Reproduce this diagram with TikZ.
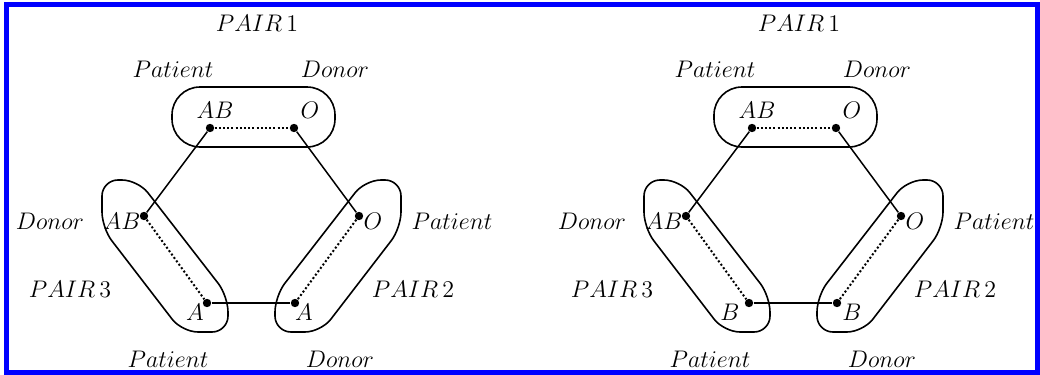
\documentclass[tikz,border=0pt]{standalone}
\usetikzlibrary{positioning}

\begin{document}
\begin{tikzpicture}[
    x=0.5pt, y=-0.5pt,
    font=\fontsize{12.7}{15}\selectfont,
    dot/.style={circle, fill, inner sep=0pt, minimum size=4.2pt},
    tag/.style={inner sep=0pt},
    link/.style={line width=0.75pt},
    match/.style={line width=1pt, dash pattern=on 1pt off 1.1pt},
    hull/.style={line width=0.8pt, rounded corners=8pt}
]

% Frame
\useasboundingbox (0,0) rectangle (1040,375);
\draw[blue, line width=2.5pt] (6.5,4.5) rectangle (1037.5,372.5);

% Two exchange cycles (left: A, right: B)
\foreach \ox/\bt/\xa/\xb/\k in {0/A/195/304/1, 542/B/188/310/2} {
  \begin{scope}[shift={(\ox,0)}]
    % Pair members
    \node[dot] (p1pat\k) at (210,128) {};
    \node[dot] (p1don\k) at (294,128) {};
    \node[dot] (p2pat\k) at (359,216) {};
    \node[dot] (p2don\k) at (295,303) {};
    \node[dot] (p3don\k) at (144,216) {};
    \node[dot] (p3pat\k) at (207,303) {};

    % Blood types
    \node[tag] (p1patL\k) at (215,110) {$AB$};
    \node[tag] (p1donL\k) at (310,110) {$O$};
    \node[tag] (p2patL\k) at (373,221) {$O$};
    \node[tag] (p2donL\k) at (\xb,312) {$\bt$};
    \node[tag] (p3donL\k) at (122,221) {$AB$};
    \node[tag] (p3patL\k) at (\xa,312) {$\bt$};

    % Roles and pair names
    \node[tag] (pair1\k) at (257,23) {$PAIR\,1$};
    \node[tag] (pair2\k) at (413,289) {$PAIR\,2$};
    \node[tag] (pair3\k) at (70,289) {$PAIR\,3$};
    \node[tag] (r1pat\k) at (173,69) {$Patient$};
    \node[tag] (r1don\k) at (335,69) {$Donor$};
    \node[tag] (r2pat\k) at (452,221) {$Patient$};
    \node[tag] (r2don\k) at (340,359) {$Donor$};
    \node[tag] (r3don\k) at (50,221) {$Donor$};
    \node[tag] (r3pat\k) at (168,359) {$Patient$};

    % Pair outlines
    \draw[hull, rounded corners=14pt] (172,87) rectangle (335,147);
    \draw[hull] (102,228) -- (102,180) -- (138,180) -- (228,296) -- (228,332) -- (182,332) -- cycle;
    \draw[hull] (401,228) -- (401,180) -- (365,180) -- (275,296) -- (275,332) -- (321,332) -- cycle;

    % Within pairs
    \draw[match] (p1pat\k) -- (p1don\k);
    \draw[match] (p2pat\k) -- (p2don\k);
    \draw[match] (p3don\k) -- (p3pat\k);

    % Exchanges
    \draw[link] (p1pat\k) -- (p3don\k);
    \draw[link] (p1don\k) -- (p2pat\k);
    \draw[link] (p3pat\k) -- (p2don\k);
  \end{scope}
}

\end{tikzpicture}
\end{document}
